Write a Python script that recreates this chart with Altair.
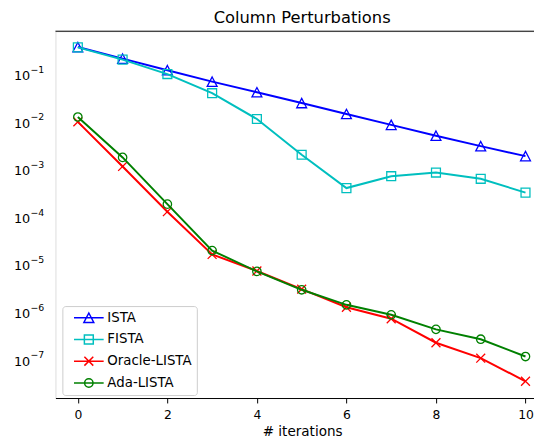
import altair as alt
import pandas as pd

iterations = list(range(11))
series_names = ["ISTA", "FISTA", "Oracle-LISTA", "Ada-LISTA"]
ista = [0.376, 0.215, 0.123, 0.0706, 0.0423, 0.0251, 0.0148, 0.00875, 0.00518, 0.00312, 0.00193]
fista = [0.37, 0.205, 0.102, 0.0404, 0.0116, 0.00206, 0.000411, 0.00073, 0.00087, 0.000644, 0.00033]
oracle = [0.0101, 0.00117, 1.31e-4, 1.66e-5, 7.45e-6, 3.1e-6, 1.29e-6, 7.4e-7, 2.32e-7, 1.1e-7, 3.6e-8]
ada = [0.0128, 0.00181, 1.89e-4, 2.0e-5, 7.3e-6, 3.0e-6, 1.45e-6, 8.95e-7, 4.43e-7, 2.75e-7, 1.19e-7]
x_tick_values = [0, 2, 4, 6, 8, 10]
y_label_values = [1e-1, 1e-2, 1e-3, 1e-4, 1e-5, 1e-6, 1e-7]
y_label_exponents = ["−1", "−2", "−3", "−4", "−5", "−6", "−7"]
title_text = "Column Perturbations"

colors = ["#0000ff", "#00bfbf", "#ff0000", "#008000"]
TRI = "M0,-0.95L1,0.95L-1,0.95Z"
SQR = "M-0.9,-0.9H0.9V0.9H-0.9Z"
XMK = "M-0.9,-0.9L0.9,0.9M-0.9,0.9L0.9,-0.9"
CIR = "M0.85,0A0.85,0.85 0 1,1 -0.85,0A0.85,0.85 0 1,1 0.85,0Z"
markers = [TRI, SQR, XMK, CIR]
legend_paths = ["M-3,0H3" + m for m in markers]

values = {"ISTA": ista, "FISTA": fista, "Oracle-LISTA": oracle, "Ada-LISTA": ada}
rows = []
for name in series_names:
    for it, v in zip(iterations, values[name]):
        rows.append({"iteration": it, "value": v, "series": name})
df = pd.DataFrame(rows)
labels_df = pd.DataFrame({"value": y_label_values, "exp": y_label_exponents})

W, H = 484, 371
FONT = "DejaVu Sans"

yticks = []
for e in range(-8, 0):
    for m in range(1, 10):
        v = float(f"{m}e{e}")
        if 1.6e-8 <= v <= 0.81:
            yticks.append(v)

DEC = "abs(log(datum.value)/LN10 - round(log(datum.value)/LN10)) < 1e-6"

x_enc = alt.X(
    "iteration:Q",
    scale=alt.Scale(domain=[-0.5, 10.19], nice=False, zero=False),
    axis=alt.Axis(
        values=x_tick_values, title="# iterations", grid=False,
        tickSize=5, tickColor="black", domainColor="black",
        labelFont=FONT, labelFontSize=12.5, labelColor="black", labelPadding=5.5,
        titleFont=FONT, titleFontSize=13.7, titleFontWeight="normal", titleColor="black",
        titleX=249.5, titleY=38, titleAlign="center", titleBaseline="alphabetic",
        labelFlush=False,
    ),
)
y_scale = alt.Scale(type="log", domain=[1.6e-8, 0.81], nice=False)
y_enc = alt.Y(
    "value:Q",
    scale=y_scale,
    axis=alt.Axis(
        values=yticks, title=None, grid=False, labels=False,
        tickSize={"condition": {"test": DEC, "value": 5}, "value": 2.5},
        tickColor="black", domainColor="black",
    ),
)

base = alt.Chart(df)
layers = []
for name, c, m in zip(series_names, colors, markers):
    sub = base.transform_filter(alt.datum.series == name)
    layers.append(sub.mark_line(color=c, strokeWidth=2).encode(x=x_enc, y=y_enc))
    layers.append(
        sub.mark_point(shape=m, color=c, filled=False, size=100, strokeWidth=1.3, opacity=1)
        .encode(x=x_enc, y=y_enc)
    )

legend_props = dict(
    title=None, orient="none", legendX=7, legendY=278,
    fillColor="white", strokeColor="#cccccc", cornerRadius=3, padding=5,
    labelFont=FONT, labelFontSize=13.5, labelColor="black",
    symbolSize=100, symbolStrokeWidth=1.5, rowPadding=6,
    symbolOffset=15, labelOffset=12,
)
legend_layer = base.transform_filter("false").mark_point(
    filled=False, size=100, strokeWidth=1.5, opacity=1
).encode(
    x=x_enc, y=y_enc,
    color=alt.Color("series:N", scale=alt.Scale(domain=series_names, range=colors),
                    legend=alt.Legend(**legend_props)),
    shape=alt.Shape("series:N", scale=alt.Scale(domain=series_names, range=legend_paths),
                    legend=alt.Legend(**legend_props)),
)

lab = alt.Chart(labels_df)
y_lab_base = lab.mark_text(font=FONT, fontSize=13, color="black", align="right",
                           baseline="alphabetic", dy=5.6).encode(
    x=alt.value(-25.5), y=alt.Y("value:Q", scale=y_scale, axis=None), text=alt.value("10"))
y_lab_exp = lab.mark_text(font=FONT, fontSize=9.5, color="black", align="left",
                          baseline="alphabetic", dy=-1.7).encode(
    x=alt.value(-25.3), y=alt.Y("value:Q", scale=y_scale, axis=None), text="exp:N")

title_layer = alt.Chart(pd.DataFrame({"t": [title_text]})).mark_text(
    font=FONT, fontSize=16.5, color="black", align="center", baseline="alphabetic"
).encode(x=alt.value(249.5), y=alt.value(-8.3), text="t:N")

top_spine = alt.Chart(pd.DataFrame({"a": [0]})).mark_rule(color="black", strokeWidth=1).encode(
    x=alt.value(0), x2=alt.value(W), y=alt.value(0)
)

chart = alt.layer(*layers, legend_layer, y_lab_base, y_lab_exp, title_layer, top_spine).properties(
    width=W, height=H,
    autosize=alt.AutoSizeParams(type="none"),
    padding={"left": 48, "top": 21, "right": 0, "bottom": 42},
).configure_view(stroke=None).configure(background="white")

chart.save("out.html", embed_options={"renderer": "svg", "actions": False})
